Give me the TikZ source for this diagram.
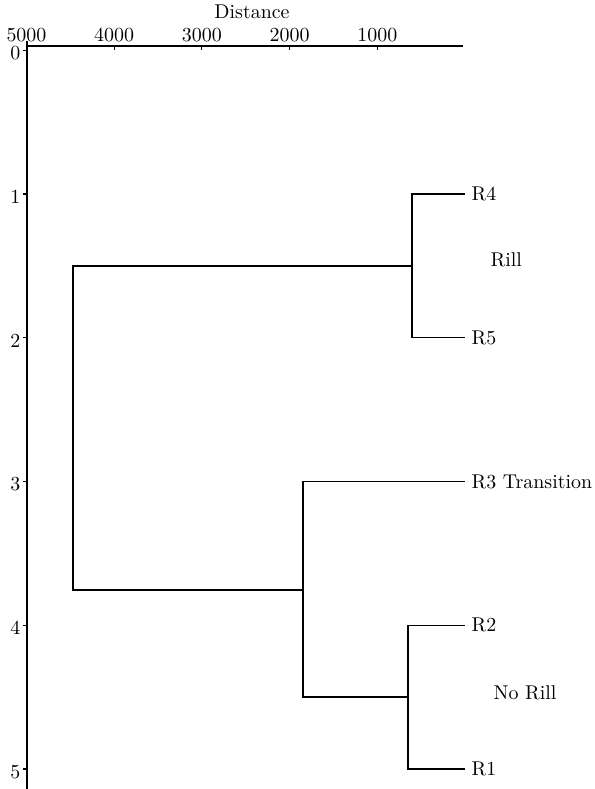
\documentclass[tikz,border=0pt]{standalone}
\usepackage{tikz}
\usetikzlibrary{positioning}
\tikzset{
  leaf/.style={anchor=west, inner xsep=3bp, inner ysep=0pt},
  group/.style={anchor=west, inner sep=0pt},
  ticklabel/.style={inner sep=0pt},
  link/.style={line width=0.6pt}
}
\begin{document}
\begin{tikzpicture}[x=0.5bp, y=-0.5bp, line width=0.6pt]
\useasboundingbox (0,0) rectangle (595,789);

% axes
\draw (27,41) -- (27,789);
\draw (27,46) -- (463,46);
\node[anchor=base, inner sep=0pt] (dist) at (252,18) {Distance};
\foreach \d in {1000,2000,3000,4000,5000}{
  \draw (465-0.0877*\d,46) -- ++(0,4);
  \node[ticklabel, anchor=base] (t\d) at (465-0.0877*\d,41) {\d};
}
\foreach \k in {0,...,5}{
  \draw (27,50.25+143.75*\k) -- ++(-4,0);
  \node[ticklabel, anchor=east] (y\k) at (21,53+143.75*\k) {\k};
}

% leaves
\node[leaf] (r4) at (465,194) {R4};
\node[leaf] (r5) at (465,337.75) {R5};
\node[leaf] (r3) at (465,481.5) {R3 Transition};
\node[leaf] (r2) at (465,625.25) {R2};
\node[leaf] (r1) at (465,769) {R1};

\node[group] (rill) at (490,260) {Rill};
\node[group] (norill) at (493,693) {No Rill};

% merges
\coordinate (m45) at (412,266);
\coordinate (m12) at (408,697);
\coordinate (m123) at (303,590);
\coordinate (root) at (73,428);

\draw[link] (r4.west) -| (m45) |- (r5.west);
\draw[link] (r2.west) -| (m12) |- (r1.west);
\draw[link] (r3.west) -| (m123) |- (m12);
\draw[link] (m45) -| (root) |- (m123);
\end{tikzpicture}
\end{document}
